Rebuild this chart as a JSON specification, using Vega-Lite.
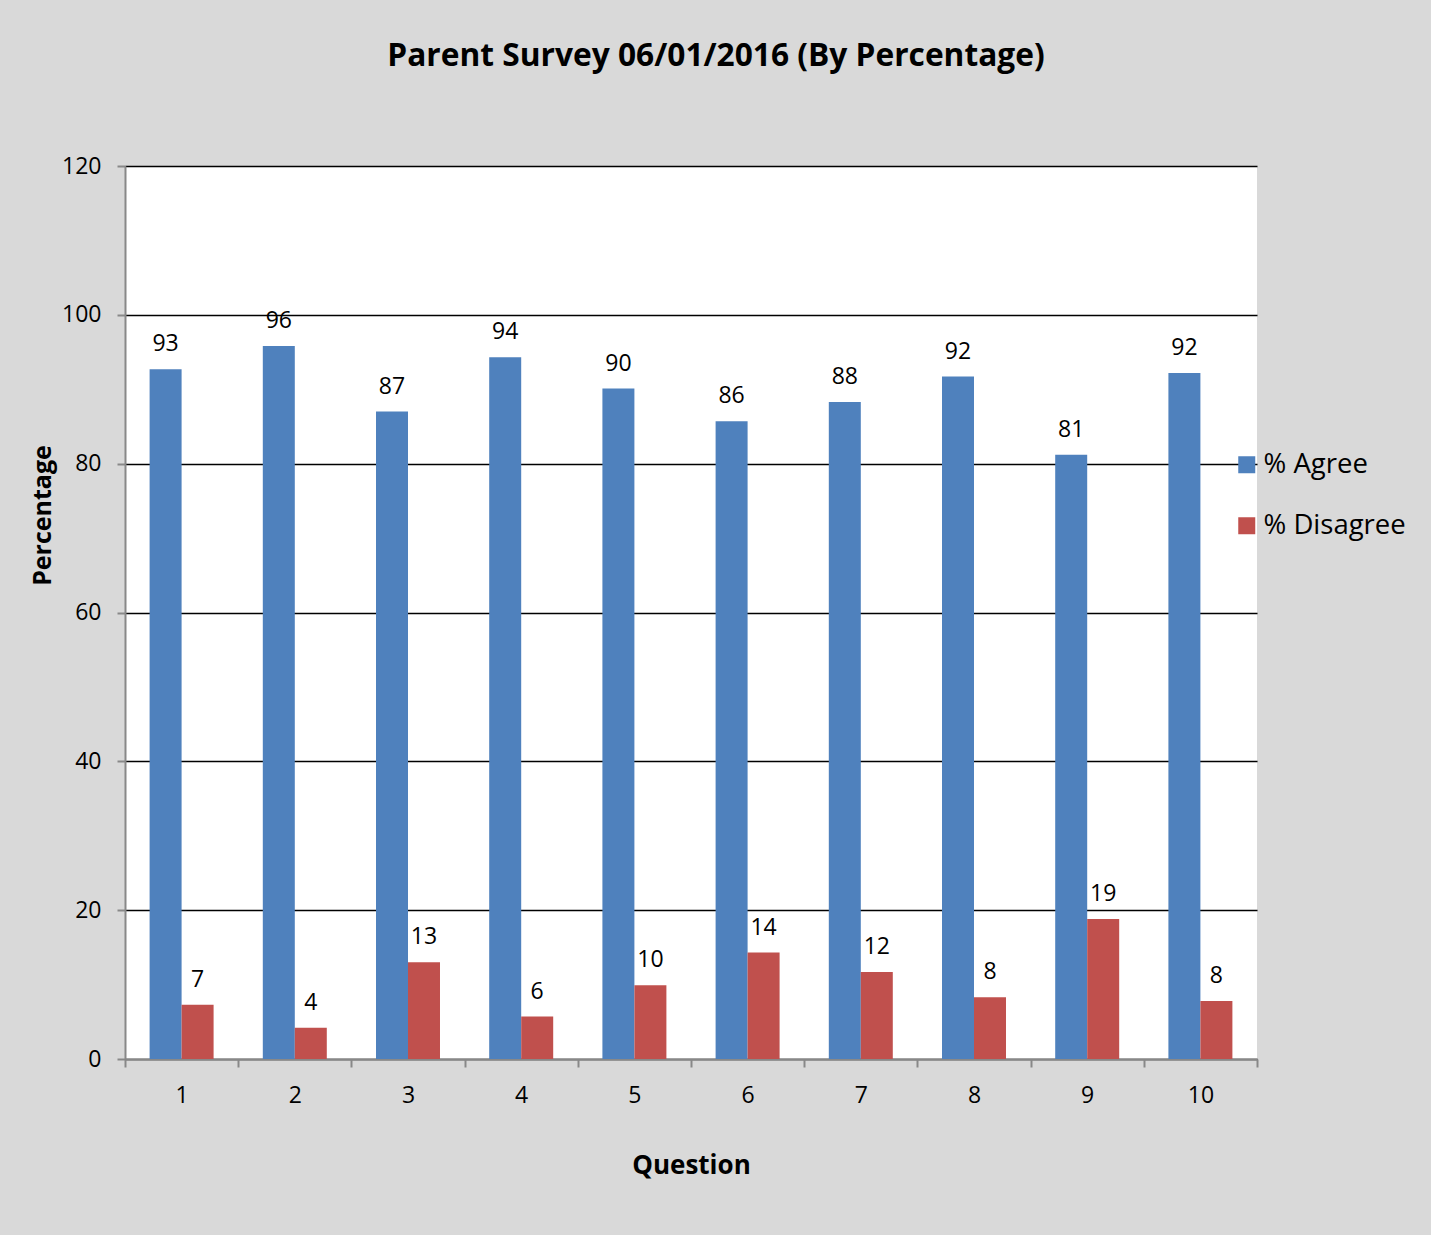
{
  "$schema": "https://vega.github.io/schema/vega-lite/v6.json",
  "width": 1132,
  "height": 893,
  "autosize": {"type": "none"},
  "padding": {"left": 125, "top": 166, "right": 174, "bottom": 176},
  "background": "#d9d9d9",
  "title": {
    "text": "Parent Survey 06/01/2016 (By Percentage)",
    "font": "Open Sans",
    "fontSize": 31.7,
    "fontWeight": "bold",
    "color": "black",
    "anchor": "middle",
    "frame": "group",
    "dx": 25,
    "offset": 82
  },
  "data": {
    "values": [
      {"q": 1, "series": "% Agree", "value": 92.7},
      {"q": 1, "series": "% Disagree", "value": 7.3},
      {"q": 2, "series": "% Agree", "value": 95.8},
      {"q": 2, "series": "% Disagree", "value": 4.2},
      {"q": 3, "series": "% Agree", "value": 87.0},
      {"q": 3, "series": "% Disagree", "value": 13.0},
      {"q": 4, "series": "% Agree", "value": 94.3},
      {"q": 4, "series": "% Disagree", "value": 5.7},
      {"q": 5, "series": "% Agree", "value": 90.1},
      {"q": 5, "series": "% Disagree", "value": 9.9},
      {"q": 6, "series": "% Agree", "value": 85.7},
      {"q": 6, "series": "% Disagree", "value": 14.3},
      {"q": 7, "series": "% Agree", "value": 88.3},
      {"q": 7, "series": "% Disagree", "value": 11.7},
      {"q": 8, "series": "% Agree", "value": 91.7},
      {"q": 8, "series": "% Disagree", "value": 8.3},
      {"q": 9, "series": "% Agree", "value": 81.2},
      {"q": 9, "series": "% Disagree", "value": 18.8},
      {"q": 10, "series": "% Agree", "value": 92.2},
      {"q": 10, "series": "% Disagree", "value": 7.8}
    ]
  },
  "encoding": {
    "x": {
      "field": "q",
      "type": "ordinal",
      "title": "Question",
      "scale": {"paddingInner": 0, "paddingOuter": 0},
      "axis": {
        "labelAngle": 0,
        "labelFont": "Open Sans",
        "labelFontSize": 23,
        "labelColor": "black",
        "labelPadding": 17,
        "tickBand": "extent",
        "tickSize": 8,
        "tickColor": "#888888",
        "tickWidth": 2,
        "domainColor": "#888888",
        "domainWidth": 2,
        "grid": false,
        "titleFont": "Open Sans",
        "titleFontSize": 26,
        "titleFontWeight": "bold",
        "titleColor": "black",
        "titlePadding": 45
      }
    },
    "xOffset": {"field": "series", "scale": {"paddingInner": 0, "paddingOuter": 0.769}},
    "y": {
      "field": "value",
      "type": "quantitative",
      "title": "Percentage",
      "scale": {"domain": [0, 120], "nice": false},
      "axis": {
        "values": [0, 20, 40, 60, 80, 100, 120],
        "labelFont": "Open Sans",
        "labelFontSize": 23,
        "labelColor": "black",
        "labelPadding": 16,
        "tickSize": 8,
        "tickColor": "#888888",
        "tickWidth": 2,
        "domainColor": "#888888",
        "domainWidth": 2,
        "grid": true,
        "gridColor": "black",
        "gridWidth": 1.5,
        "titleFont": "Open Sans",
        "titleFontSize": 25,
        "titleFontWeight": "bold",
        "titleColor": "black",
        "titlePadding": 6,
        "titleY": 349
      }
    }
  },
  "layer": [
    {
      "mark": {"type": "bar"},
      "encoding": {
        "color": {
          "field": "series",
          "type": "nominal",
          "scale": {"domain": ["% Agree", "% Disagree"], "range": ["#4f81bd", "#c0504d"]},
          "legend": {
            "title": null,
            "orient": "none",
            "legendX": 1108,
            "legendY": 285,
            "padding": 0,
            "symbolType": "square",
            "symbolSize": 289,
            "symbolStrokeWidth": 0,
            "labelFont": "Open Sans",
            "labelFontSize": 27.5,
            "labelColor": "black",
            "labelOffset": 3,
            "rowPadding": 32
          }
        }
      }
    },
    {
      "mark": {"type": "text", "baseline": "alphabetic", "dy": -18, "font": "Open Sans", "fontSize": 23, "color": "black"},
      "encoding": {"text": {"field": "value", "type": "quantitative", "format": ".0f"}}
    }
  ],
  "config": {
    "view": {"fill": "white", "stroke": null}
  }
}
